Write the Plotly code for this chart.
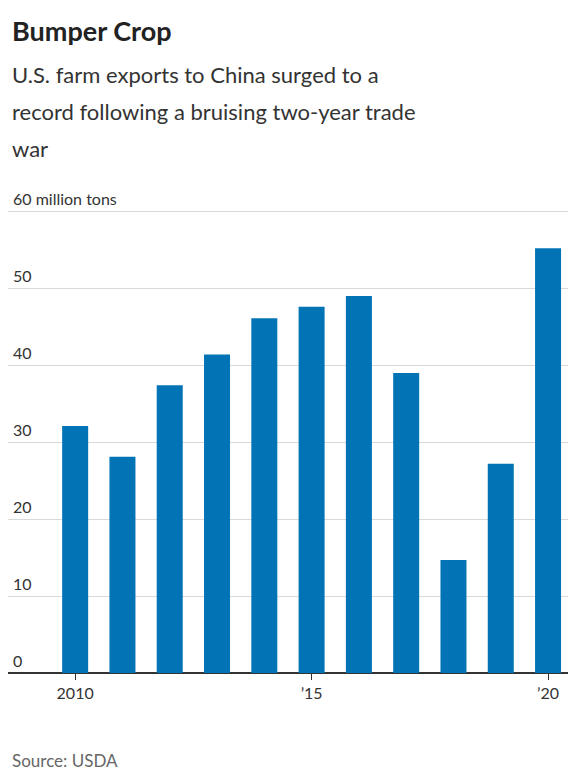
import plotly.graph_objects as go

years = [2010, 2011, 2012, 2013, 2014, 2015, 2016, 2017, 2018, 2019, 2020]
tons = [32.1, 28.1, 37.4, 41.4, 46.1, 47.6, 49.0, 39.0, 14.7, 27.2, 55.2]
y_ticks = [0, 10, 20, 30, 40, 50, 60]
y_labels = ["0", "10", "20", "30", "40", "50", "60 million tons"]
x_ticks = [2010, 2015, 2020]
x_labels = ["2010", "\u201915", "\u201920"]
subtitle = ["U.S. farm exports to China surged to a",
            "record following a bruising two-year trade",
            "war"]

fig = go.Figure()
fig.add_trace(go.Bar(x=years, y=tons, width=0.55, marker=dict(color="#0274b6", line_width=0)))

for v, lab in zip(y_ticks, y_labels):
    fig.add_annotation(x=0, xref="paper", y=v, yref="y", text=lab, showarrow=False,
                       xanchor="left", yanchor="bottom", xshift=3, yshift=1,
                       font=dict(family="Lato", size=16, color="#333"))

# title block, positioned in pixels from the top of the page
def top_text(text, px_from_top, size, color, bold=False):
    fig.add_annotation(x=0, xref="paper", y=1, yref="paper", text=f"<b>{text}</b>" if bold else text,
                       showarrow=False, xanchor="left", yanchor="middle", xshift=2,
                       yshift=201 - px_from_top, font=dict(family="Lato", size=size, color=color))

top_text("Bumper Crop", 22, 27, "#222", bold=True)
for i, line in enumerate(subtitle):
    top_text(line, 66 + 37 * i, 22, "#333")

fig.add_annotation(x=0, xref="paper", y=0, yref="paper", text="Source: USDA",
                   showarrow=False, xanchor="left", yanchor="middle", xshift=2, yshift=-(752 - 665),
                   font=dict(family="Lato", size=17, color="#666"))

fig.update_layout(
    width=576, height=768, margin=dict(l=0, r=0, t=201, b=103),
    plot_bgcolor="white", paper_bgcolor="white", showlegend=False,
    xaxis=dict(range=[2008.58, 2020.76], tickvals=x_ticks, ticktext=x_labels,
               ticks="outside", ticklen=6, tickcolor="#333", showgrid=False,
               tickfont=dict(family="Lato", size=16, color="#333")),
    yaxis=dict(range=[0, 60.3], tickvals=y_ticks, showticklabels=False,
               gridcolor="#d9d9d9", zeroline=True, zerolinecolor="#333", zerolinewidth=2),
)
fig.write_html("out.html")
